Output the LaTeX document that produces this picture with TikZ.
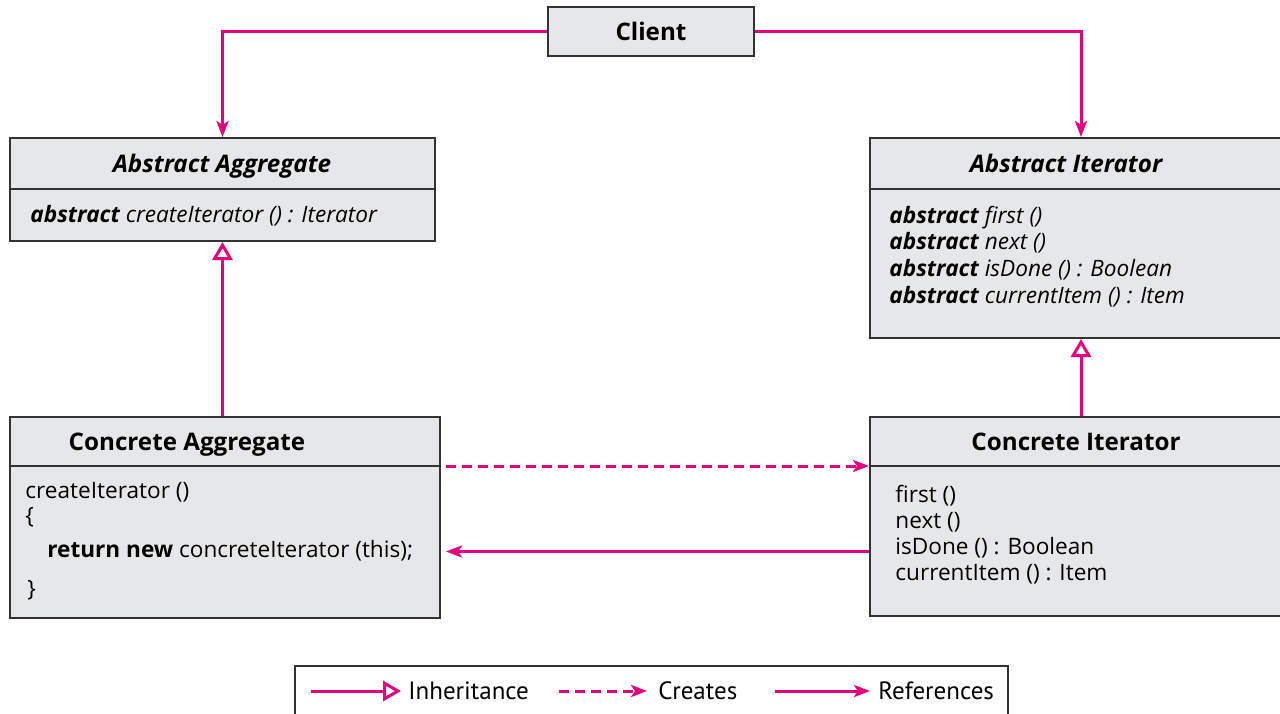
\documentclass[tikz,border=0pt]{standalone}
\usepackage{fontspec}
\setmainfont{Open Sans}
\newfontfamily\legendfont{PT Sans}
\usetikzlibrary{arrows.meta}

\definecolor{umlpink}{RGB}{230,0,126}
\definecolor{umlgray}{RGB}{230,231,232}
\definecolor{umlline}{RGB}{50,50,50}

\begin{document}
\begin{tikzpicture}[
        x=0.5pt, y=-0.5pt,
        % Define common styles for the boxes and text
        classbox/.style={draw=umlline, fill=umlgray, line width=1pt, rectangle, anchor=north west, inner sep=0pt},
        classname/.style={anchor=base, inner sep=0pt, font=\fontsize{12.1}{14}\selectfont\bfseries},
        abstractname/.style={classname, font=\fontsize{12.1}{14}\selectfont\bfseries\itshape},
        membertext/.style={anchor=base west, inner sep=0pt, font=\fontsize{11.3}{13}\selectfont},
        abstractop/.style={membertext, font=\fontsize{11.3}{13}\selectfont\itshape},
        legendtext/.style={anchor=base west, inner sep=0pt, font=\legendfont\fontsize{12.5}{14}\selectfont},
        divider/.style={draw=umlline, line width=1pt},
        % and for the connectors
        refarrow/.style={draw=umlpink, line width=1.5pt, -{Stealth[length=8pt, width=6pt, inset=2pt]}},
        creates/.style={refarrow, dash pattern=on 5pt off 3pt},
        inherit/.style={draw=umlpink, line width=1.5pt, -{Triangle[open, fill=white, length=9pt, width=10pt]}}
    ]

    \useasboundingbox (0,0) rectangle (1280,713);
    \clip (0,0) rectangle (1280,713);

    % Define the class boxes
    \node[classbox, anchor=center, minimum width=103pt, minimum height=24.5pt, font=\fontsize{12.1}{14}\selectfont\bfseries] (client) at (651,31.5) {Client};

    \node[classbox, minimum width=212.5pt, minimum height=51.5pt] (aagg) at (9,137) {};
    \node[classbox, minimum width=211pt, minimum height=100pt] (aiter) at (869,137) {};
    \node[classbox, minimum width=215pt, minimum height=100.5pt] (cagg) at (9,416) {};
    \node[classbox, minimum width=211pt, minimum height=99.5pt] (citer) at (869,416) {};

    \draw[divider] ([yshift=-26pt]aagg.north west) -- ([yshift=-26pt]aagg.north east);
    \draw[divider] ([yshift=-26pt]aiter.north west) -- ([yshift=-26pt]aiter.north east);
    \draw[divider] ([yshift=-25pt]cagg.north west) -- ([yshift=-25pt]cagg.north east);
    \draw[divider] ([yshift=-25pt]citer.north west) -- ([yshift=-25pt]citer.north east);

    % Class names
    \node[abstractname] (aagg-name) at (222,172) {Abstract Aggregate};
    \node[abstractname] (aiter-name) at (1066,172) {Abstract Iterator};
    \node[classname] (cagg-name) at (187,450) {Concrete Aggregate};
    \node[classname] (citer-name) at (1076,450) {Concrete Iterator};

    % Operations
    \node[abstractop] (aagg-op) at (30,222) {\textbf{abstract} createIterator () : Iterator};

    \foreach \op [count=\i] in {first (), next (), isDone () : Boolean, currentItem () : Item}
        \node[abstractop] (aiter-op\i) at (889,196.3+26.7*\i) {\textbf{abstract} \op};

    \node[membertext] (cagg-op) at (25,498) {createIterator ()};
    \node[membertext] (cagg-open) at (25,523) {\{};
    \node[membertext] (cagg-ret) at (47,557) {\textbf{return new} concreteIterator (this);};
    \node[membertext] (cagg-close) at (27,596) {\}};

    \foreach \op [count=\i] in {first (), next (), isDone () : Boolean, currentItem () : Item}
        \node[membertext] (citer-op\i) at (895,476+26*\i) {\op};

    % Draw the connectors
    \draw[refarrow] (client.west) -| (aagg.north);
    \draw[refarrow] (client.east) -| (aiter.north);

    \draw[inherit] (aagg.south |- cagg.north) -- (aagg.south);
    \draw[inherit] (citer.north) -- (aiter.south);

    \coordinate (cdiv) at ([yshift=-25pt]citer.north west);
    \draw[creates, shorten <=2.5pt] (cagg.east |- cdiv) -- (cdiv);

    \coordinate (ret) at ([yshift=-17.5pt]citer.west);
    \draw[refarrow, shorten >=2.5pt] (ret) -- (cagg.east |- ret);

    % Legend
    \node[classbox, fill=white, minimum width=356.5pt, minimum height=30pt] (legend) at (294,665) {};

    \node[legendtext] (lg-inherit) at (408,699) {Inheritance};
    \node[legendtext] (lg-creates) at (658,699) {Creates};
    \node[legendtext] (lg-ref) at (878,699) {References};

    \coordinate (lg-inherit-s) at (311,691);
    \coordinate (lg-creates-s) at (559,691);
    \coordinate (lg-ref-s) at (775,691);

    \draw[inherit, shorten >=3.5pt] (lg-inherit-s) -- (lg-inherit.west |- lg-inherit-s);
    \draw[creates, shorten >=5.5pt] (lg-creates-s) -- (lg-creates.west |- lg-creates-s);
    \draw[refarrow, shorten >=4pt] (lg-ref-s) -- (lg-ref.west |- lg-ref-s);

\end{tikzpicture}
\end{document}
